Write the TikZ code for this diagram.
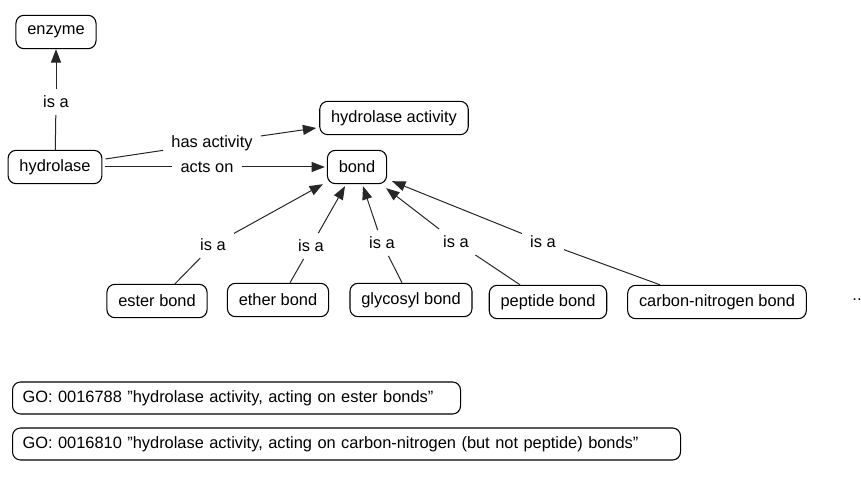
\documentclass[tikz,border=0pt]{standalone}
\usepackage{fontspec}
\setmainfont{Liberation Sans}
\usetikzlibrary{arrows.meta}
\begin{document}
\begin{tikzpicture}[x=0.75pt,y=-0.75pt,
  txt/.style={font=\fontsize{12.3}{14}\selectfont},
  concept/.style={txt, draw, rounded corners=6pt, line width=0.8pt, inner xsep=8.5pt, minimum height=25pt},
  gobox/.style={concept, anchor=west, align=left, inner xsep=7.5pt, minimum height=24pt},
  line/.style={line width=0.75pt, draw=black!85},
  rel/.style={line, -{Triangle[length=10pt,width=7.5pt]}},
  lbl/.style={txt, inner xsep=6pt, inner ysep=5pt}]
\useasboundingbox (0,0) rectangle (861,477);
% concepts
\node[concept] (enzyme) at (56,32) {enzyme};
\node[concept] (hydrolase) at (55,167) {hydrolase};
\node[concept] (hact) at (394,118) {hydrolase activity};
\node[concept] (bond) at (357,167) {bond};
\node[concept] (ester) at (157,301) {ester bond};
\node[concept] (ether) at (278,300) {ether bond};
\node[concept] (glyco) at (411,300) {glycosyl bond};
\node[concept] (pep) at (548,302) {peptide bond};
\node[concept] (cn) at (717,302) {carbon-nitrogen bond};
\node[txt] (dots) at (857,300) {..};
\node[gobox, text width=321pt] (go1) at (12,398) {GO: 0016788 {\char34}hydrolase activity, acting on ester bonds{\char34}};
\node[gobox, text width=486pt] (go2) at (12,444) {GO: 0016810 {\char34}hydrolase activity, acting on carbon-nitrogen (but not peptide) bonds{\char34}};
% link labels
\node[lbl] (l0) at (56,102) {is a};
\node[lbl] (lha) at (212,143) {has activity};
\node[lbl] (lao) at (207,167) {acts on};
\node[lbl] (l1) at (213,245) {is a};
\node[lbl] (l2) at (311,246) {is a};
\node[lbl] (l3) at (382,243) {is a};
\node[lbl] (l4) at (456,242) {is a};
\node[lbl] (l5) at (543,242) {is a};
% links
\draw[line] (hydrolase) -- (l0);
\draw[rel] (l0) -- (enzyme);
\draw[line] ([shift={(3,-8)}]hydrolase.east) -- (lha);
\draw[rel] (lha) -- ([shift={(-3,10)}]hact.west);
\draw[line] ([shift={(3,0)}]hydrolase.east) -- (lao);
\draw[rel] (lao) -- ([shift={(-2,0)}]bond.west);
\draw[line] ([shift={(18,0)}]ester.north) -- (l1);
\draw[rel] (l1) -- ([shift={(-4,0)}]bond.south west);
\draw[line] ([shift={(12,0)}]ether.north) -- (l2);
\draw[rel] (l2) -- ([shift={(-12,2)}]bond.south);
\draw[line] ([shift={(-9,0)}]glyco.north) -- (l3);
\draw[rel] (l3) -- ([shift={(6,2)}]bond.south);
\draw[line] ([shift={(-28,0)}]pep.north) -- (l4);
\draw[rel] (l4) -- ([shift={(-1,4)}]bond.south east);
\draw[line] ([shift={(-57,0)}]cn.north) -- (l5);
\draw[rel] (l5) -- ([shift={(5,-3)}]bond.south east);
\end{tikzpicture}
\end{document}
